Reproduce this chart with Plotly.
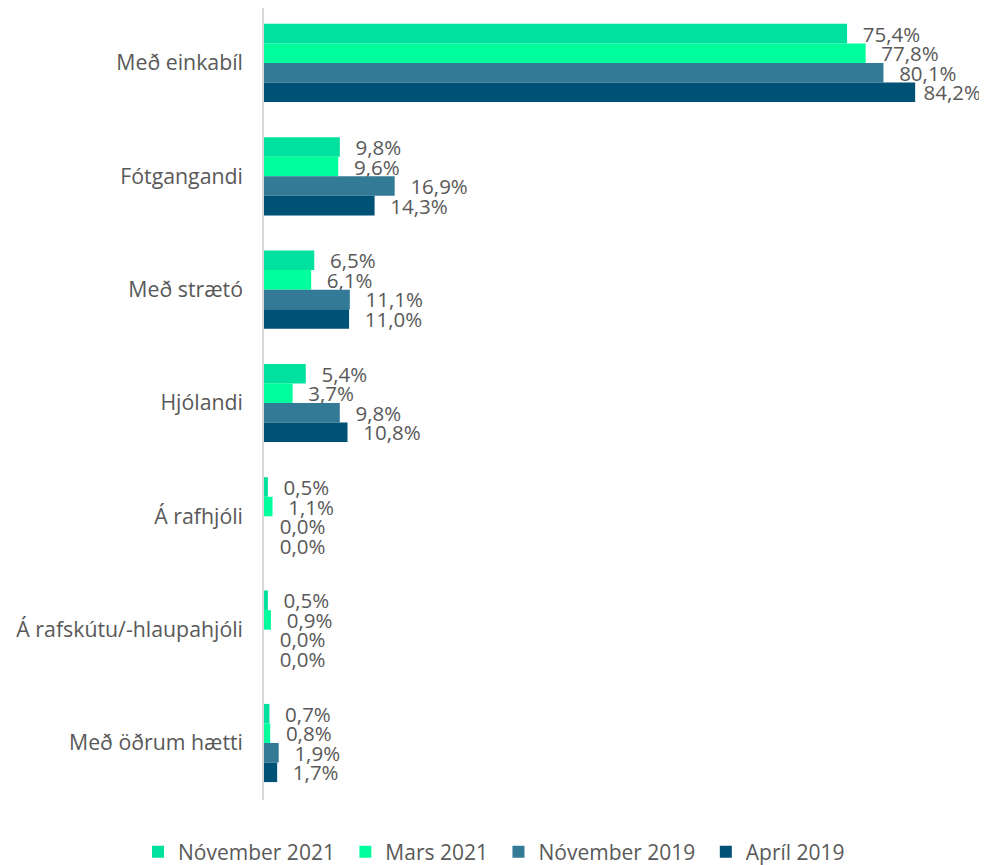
import plotly.graph_objects as go

categories = ["Með einkabíl", "Fótgangandi", "Með strætó", "Hjólandi",
              "Á rafhjóli", "Á rafskútu/-hlaupahjóli", "Með öðrum hætti"]
series_names = ["Nóvember 2021", "Mars 2021", "Nóvember 2019", "Apríl 2019"]
nov_2021 = [75.4, 9.8, 6.5, 5.4, 0.5, 0.5, 0.7]
mars_2021 = [77.8, 9.6, 6.1, 3.7, 1.1, 0.9, 0.8]
nov_2019 = [80.1, 16.9, 11.1, 9.8, 0.0, 0.0, 1.9]
april_2019 = [84.2, 14.3, 11.0, 10.8, 0.0, 0.0, 1.7]
colors = ["#00E09E", "#00FF9C", "#337A96", "#005176"]

FONT = "Open Sans, Lato, sans-serif"


def label(v):
    # labels near the right edge are pulled in closer to the bar end
    pad = "\u00a0" if v > 82 else "\u00a0\u00a0\u200a"
    return pad + f"{v:.1f}".replace(".", ",") + "%"


fig = go.Figure()
for name, vals, col in zip(series_names, [nov_2021, mars_2021, nov_2019, april_2019], colors):
    fig.add_trace(go.Bar(
        y=categories, x=vals, name=name + "\u00a0", orientation="h",
        marker=dict(color=col, line=dict(width=0)),
        text=[label(v) for v in vals],
        textposition="outside", constraintext="none", cliponaxis=False,
        textfont=dict(size=20.5, color="#595959", family=FONT),
    ))

fig.update_layout(
    width=979, height=857,
    barmode="group", bargap=0.31, bargroupgap=0,
    plot_bgcolor="white", paper_bgcolor="white",
    margin=dict(l=256, r=27, t=0, b=65, autoexpand=False),
    font=dict(family=FONT, color="#595959", size=18),
    xaxis=dict(range=[0, 90], autorange=False, showticklabels=False, showgrid=False,
               zeroline=False, showline=False),
    yaxis=dict(range=[6.503, -0.485], autorange=False, showline=True, linecolor="#D9D9D9",
               linewidth=1.5, ticks="", ticklabelstandoff=15,
               tickfont=dict(size=21.3, color="#595959")),
    legend=dict(orientation="h", x=-0.181, xanchor="left",
                y=-0.040, yanchor="top", font=dict(size=21, color="#595959"),
                itemwidth=30, traceorder="normal"),
)
fig.write_html("out.html")
